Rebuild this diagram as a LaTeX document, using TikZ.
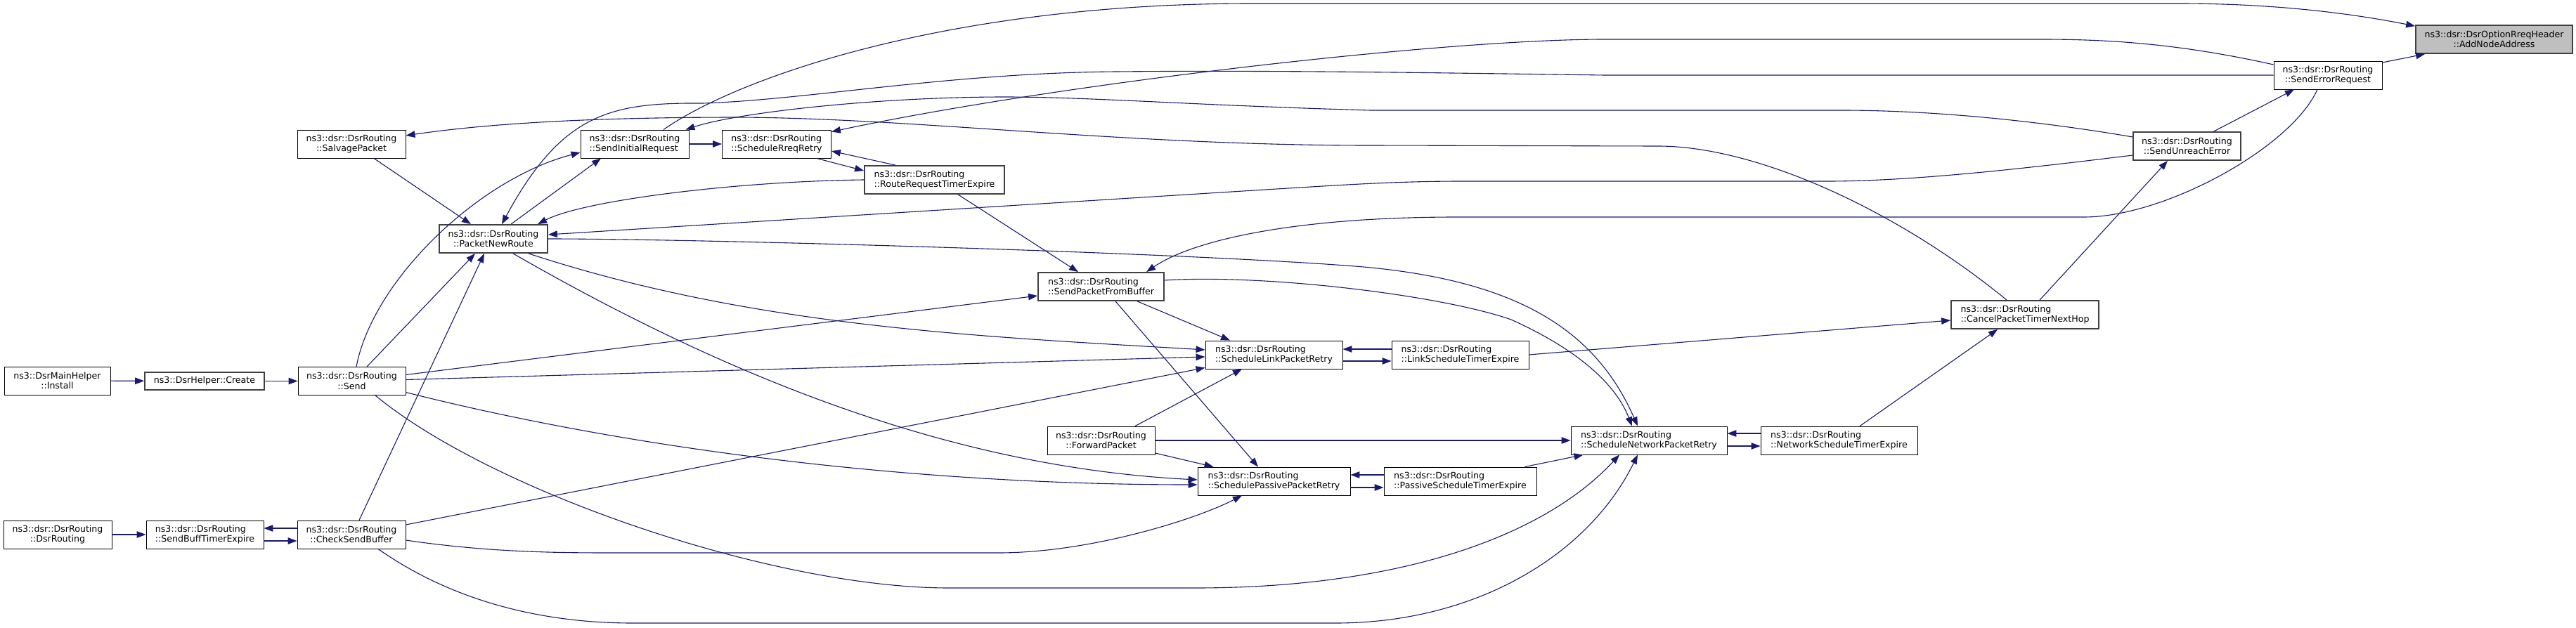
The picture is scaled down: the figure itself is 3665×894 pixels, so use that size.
\documentclass[tikz,border=0pt]{standalone}
\usepackage{fontspec}
\setmainfont{DejaVu Sans}
\usetikzlibrary{arrows.meta}
\definecolor{edgeblue}{HTML}{191970}
\definecolor{boxgray}{HTML}{404040}
\definecolor{rootgray}{HTML}{BFBFBF}
\newcommand{\fnfont}{\fontsize{12.6pt}{14.5pt}\selectfont}
\tikzset{
  fn/.style={draw, line width=0.9pt, fill=white, minimum height=40pt, inner xsep=2pt, inner ysep=1pt, align=center, font=\fnfont},
  fnl/.style={fn, align=left},
  undoc/.style={draw=boxgray, line width=1.8pt},
  root/.style={fn, undoc, fill=rootgray},
  call/.style={->, draw=edgeblue, line width=1.1pt},
}

\begin{document}
\begin{tikzpicture}[x=1pt, y=-1pt, >={Triangle[length=13pt,width=9.5pt]}]
    \useasboundingbox (0, 0) rectangle (3665, 894);

    \node[fn, minimum width=151pt] (inst) at (81.5, 542) {ns3::DsrMainHelper\\::Install};
    \node[fn, undoc, minimum width=170pt, minimum height=25pt] (crt) at (291, 542.5) {ns3::DsrHelper::Create};
    \node[fn, minimum width=153pt] (send) at (500.5, 542.5) {ns3::dsr::DsrRouting\\::Send};
    \node[fn, minimum width=154pt] (ctor) at (82, 761) {ns3::dsr::DsrRouting\\::DsrRouting};
    \node[fnl, minimum width=167pt] (sbte) at (291.5, 761) {ns3::dsr::DsrRouting\\::SendBuffTimerExpire};
    \node[fn, minimum width=154pt] (csb) at (500, 761) {ns3::dsr::DsrRouting\\::CheckSendBuffer};
    \node[fn, minimum width=154pt] (salv) at (500, 205) {ns3::dsr::DsrRouting\\::SalvagePacket};
    \node[fn, undoc, minimum width=154pt] (pnr) at (702, 340) {ns3::dsr::DsrRouting\\::PacketNewRoute};
    \node[fnl, minimum width=154pt] (sir) at (903, 205) {ns3::dsr::DsrRouting\\::SendInitialRequest};
    \node[fnl, minimum width=155pt] (rreq) at (1105, 205) {ns3::dsr::DsrRouting\\::ScheduleRreqRetry};
    \node[fnl, undoc, minimum width=199pt] (rrte) at (1329.5, 256) {ns3::dsr::DsrRouting\\::RouteRequestTimerExpire};
    \node[fnl, undoc, minimum width=179pt] (spfb) at (1566.5, 408) {ns3::dsr::DsrRouting\\::SendPacketFromBuffer};
    \node[fn, minimum width=153pt] (fwd) at (1566.5, 627) {ns3::dsr::DsrRouting\\::ForwardPacket};
    \node[fnl, minimum width=195pt] (slpr) at (1812.5, 505) {ns3::dsr::DsrRouting\\::ScheduleLinkPacketRetry};
    \node[fnl, minimum width=217pt] (sppr) at (1812.5, 685) {ns3::dsr::DsrRouting\\::SchedulePassivePacketRetry};
    \node[fnl, minimum width=195pt] (lste) at (2077.5, 505) {ns3::dsr::DsrRouting\\::LinkScheduleTimerExpire};
    \node[fnl, minimum width=217pt] (pste) at (2077.5, 685) {ns3::dsr::DsrRouting\\::PassiveScheduleTimerExpire};
    \node[fnl, minimum width=222pt] (snpr) at (2346, 627) {ns3::dsr::DsrRouting\\::ScheduleNetworkPacketRetry};
    \node[fnl, minimum width=223pt] (nste) at (2616.5, 627) {ns3::dsr::DsrRouting\\::NetworkScheduleTimerExpire};
    \node[fnl, undoc, minimum width=210pt] (cptnh) at (2881, 448) {ns3::dsr::DsrRouting\\::CancelPacketTimerNextHop};
    \node[fn, undoc, minimum width=153pt] (sue) at (3111.5, 208) {ns3::dsr::DsrRouting\\::SendUnreachError};
    \node[fn, minimum width=154pt] (ser) at (3312, 107) {ns3::dsr::DsrRouting\\::SendErrorRequest};
    \node[root, minimum width=223pt] (ana) at (3548.5, 56) {ns3::dsr::DsrOptionRreqHeader\\::AddNodeAddress};

    \draw[call] (inst) -- (crt);
    \draw[call] (crt) -- (send);
    \draw[call] (ctor) -- (sbte);
    \draw[call] ([yshift=-9pt]sbte.east) -- ([yshift=-9pt]csb.west);
    \draw[call] ([yshift=9pt]csb.west) -- ([yshift=9pt]sbte.east);

    \draw[call] ([xshift=6.5pt]send.north) .. controls (530, 400) and (680, 255) .. ([yshift=-12pt]sir.west);
    \draw[call] ([xshift=21.5pt]send.north) -- ([xshift=-26pt]pnr.south);
    \draw[call] ([yshift=9pt]send.east) -- ([yshift=-13pt]spfb.west);
    \draw[call] ([yshift=2pt]send.east) -- ([yshift=-3pt]slpr.west);
    \draw[call] ([yshift=-16pt]send.east) .. controls (900, 640) and (1300, 690) .. ([yshift=-5pt]sppr.west);
    \draw[call] ([xshift=33.5pt]send.south) .. controls (700, 700) and (1100, 837) .. (1350, 837) -- (1700, 837)
        .. controls (2000, 837) and (2200, 760) .. ([xshift=-42pt]snpr.south);

    \draw[call] ([xshift=11pt]csb.north) -- ([xshift=-13pt]pnr.south);
    \draw[call] ([yshift=14pt]csb.east) -- ([yshift=2pt]slpr.south west);
    \draw[call] ([yshift=-8pt]csb.east) .. controls (700, 787) and (800, 787) .. (880, 787) -- (1420, 787)
        .. controls (1550, 787) and (1700, 740) .. ([xshift=-45.5pt]sppr.south);
    \draw[call] ([xshift=38pt]csb.south) .. controls (650, 860) and (780, 887) .. (900, 887) -- (1900, 887)
        .. controls (2100, 887) and (2260, 790) .. ([xshift=-16pt]snpr.south);

    \draw[call] ([xshift=32pt]salv.south) -- ([xshift=-32pt]pnr.north);

    \draw[call] ([xshift=25pt]pnr.north) -- ([xshift=-48pt]sir.south);
    \draw[call] ([xshift=50pt]pnr.south) .. controls (1072, 466) and (1395, 479) .. ([yshift=7pt]slpr.west);
    \draw[call] ([xshift=28pt]pnr.south) .. controls (1060, 551) and (1374, 666) .. ([yshift=2pt]sppr.west);
    \draw[call] (pnr.east) .. controls (1000, 340) and (1700, 360) .. (1940, 380)
        .. controls (2160, 400) and (2270, 470) .. ([xshift=-16pt]snpr.north);

    \draw[call] (sir) -- (rreq);
    \draw[call] ([xshift=41pt]sir.north) .. controls (1050, 110) and (1350, 5) .. (1780, 5) -- (3100, 5)
        .. controls (3250, 5) and (3360, 22) .. ([yshift=-2pt]ana.north west);

    \draw[call] ([xshift=57pt]rreq.south) -- ([yshift=13pt]rrte.west);
    \draw[call] ([xshift=-55.5pt]rrte.north) -- ([yshift=-10pt]rreq.east);
    \draw[call] (rrte.west) .. controls (1050, 258) and (830, 285) .. ([xshift=63pt]pnr.north);
    \draw[call] ([xshift=33.5pt]rrte.south) -- ([xshift=-32.5pt]spfb.north);

    \draw[call] ([xshift=51.5pt]spfb.south) -- ([xshift=-62.5pt]slpr.north);
    \draw[call] ([xshift=20.5pt]spfb.south) -- ([xshift=-22.5pt]sppr.north);
    \draw[call] ([yshift=9pt]spfb.east) .. controls (1800, 390) and (2050, 420) .. (2150, 455)
        .. controls (2250, 500) and (2300, 550) .. ([xshift=-24pt]snpr.north);

    \draw[call] ([xshift=48.5pt]fwd.north) -- ([xshift=-45.5pt]slpr.south);
    \draw[call] ([yshift=-18pt]fwd.east) -- ([xshift=23pt]sppr.north west);
    \draw[call] (fwd) -- (snpr);

    \draw[call] ([yshift=-9pt]slpr.east) -- ([yshift=-9pt]lste.west);
    \draw[call] ([yshift=8pt]lste.west) -- ([yshift=8pt]slpr.east);
    \draw[call] (lste.east) -- ([yshift=-8pt]cptnh.west);

    \draw[call] ([yshift=-9pt]sppr.east) -- ([yshift=-9pt]pste.west);
    \draw[call] ([yshift=9pt]pste.west) -- ([yshift=9pt]sppr.east);
    \draw[call] ([xshift=-17pt]pste.north east) -- ([xshift=18pt]snpr.south west);

    \draw[call] ([yshift=-8pt]snpr.east) -- ([yshift=-8pt]nste.west);
    \draw[call] ([yshift=10pt]nste.west) -- ([yshift=10pt]snpr.east);
    \draw[call] ([xshift=29.5pt]nste.north) -- ([xshift=-39pt]cptnh.south);

    \draw[call] ([xshift=21pt]cptnh.north) -- ([xshift=-27.5pt]sue.south);
    \draw[call] ([xshift=-26pt]cptnh.north) .. controls (2700, 300) and (2500, 208) .. (2359, 208) -- (1950, 207)
        .. controls (1600, 207) and (1300, 168) .. (1050, 167)
        .. controls (850, 167) and (700, 175) .. ([yshift=12pt]salv.east);

    \draw[call] ([xshift=38pt]sue.north) -- ([xshift=-48pt]ser.south);
    \draw[call] ([yshift=13pt]sue.west) .. controls (2900, 172) and (2750, 157) .. (2620, 157) -- (1950, 157)
        .. controls (1700, 150) and (1550, 138) .. (1430, 138)
        .. controls (1250, 138) and (1050, 160) .. ([xshift=-5pt]sir.north east);
    \draw[call] ([yshift=-13pt]sue.west) .. controls (2880, 240) and (2720, 258) .. (2600, 258) -- (2080, 258)
        .. controls (1980, 258) and (1900, 264) .. (1800, 270) -- ([yshift=6pt]pnr.east);

    \draw[call] ([yshift=18pt]ser.east) -- ([xshift=14pt]ana.south west);
    \draw[call] ([yshift=15pt]ser.west) .. controls (3100, 62) and (3000, 56) .. (2905, 56) -- (2283, 56)
        .. controls (2050, 56) and (1500, 120) .. ([yshift=-3pt]rreq.north east);
    \draw[call] (ser.west) -- (2283, 107) .. controls (2000, 103) and (1800, 100) .. (1588, 102)
        .. controls (1350, 104) and (1150, 142) .. (1000, 147)
        .. controls (870, 146) and (800, 160) .. ([xshift=12pt]pnr.north);
    \draw[call] ([xshift=-15pt]ser.south) .. controls (3260, 210) and (3080, 309) .. (2965, 309) -- (2072, 309)
        .. controls (1850, 309) and (1700, 340) .. ([xshift=64.5pt]spfb.north);
  \end{tikzpicture}
\end{document}
